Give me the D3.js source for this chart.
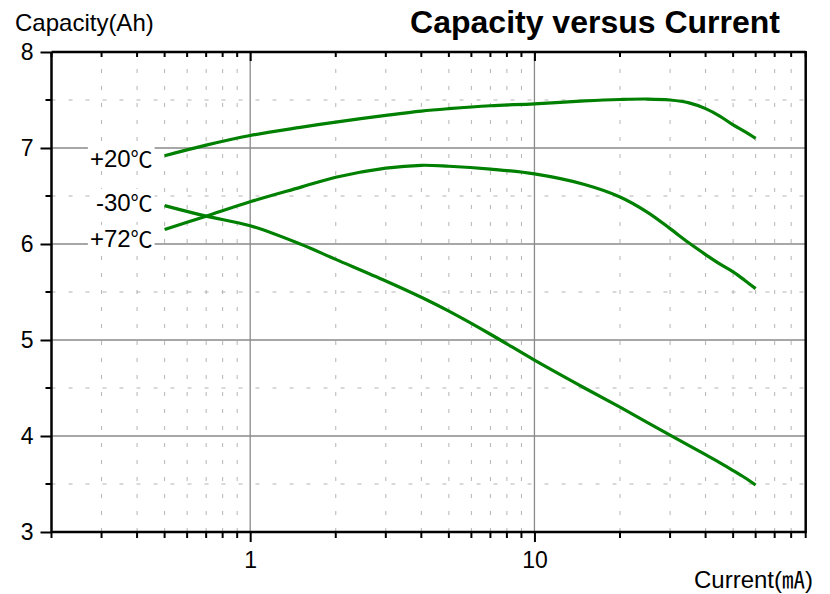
<!DOCTYPE html>
<html><head><meta charset="utf-8">
<script src="https://cdn.jsdelivr.net/npm/d3@7"></script>
<style>body{margin:0;background:#fff}svg{display:block}</style>
</head><body>
<svg id="c" width="830" height="594"></svg>
<script>
// ---- data ----
const currents = [0.5, 0.7, 1, 1.5, 2, 3, 4, 5, 7, 10, 15, 20, 25, 30, 35, 40, 45, 50, 55, 60];
const capPlus20 = [6.92, 7.03, 7.13, 7.215, 7.27, 7.34, 7.385, 7.41, 7.44, 7.46, 7.49, 7.505, 7.51, 7.50, 7.47, 7.41, 7.33, 7.24, 7.17, 7.10];
const capMinus30 = [6.40, 6.29, 6.19, 6.00, 5.84, 5.615, 5.445, 5.30, 5.06, 4.79, 4.50, 4.30, 4.14, 4.01, 3.90, 3.805, 3.72, 3.64, 3.565, 3.49];
const capPlus72 = [6.15, 6.29, 6.44, 6.59, 6.695, 6.79, 6.82, 6.81, 6.78, 6.73, 6.62, 6.49, 6.33, 6.16, 6.01, 5.89, 5.79, 5.71, 5.62, 5.535];
const seriesLabels = ["+20", "-30", "+72"];
const labelLevels = [6.80, 6.345, 5.97];
const xMajorTicks = [1, 10];
const xMinorTicks = [0.2, 0.3, 0.4, 0.5, 0.6, 0.7, 0.8, 0.9, 2, 3, 4, 5, 6, 7, 8, 9, 20, 30, 40, 50, 60, 70, 80, 90];
const yMajorTicks = [3, 4, 5, 6, 7, 8];
const yMinorTicks = [3.5, 4.5, 5.5, 6.5, 7.5];
const xDomain = [0.2, 90];
const yDomain = [3, 8];
const titleText = "Capacity versus Current";
const yTitle = "Capacity(Ah)";

// ---- layout ----
const L = 51.5, R = 805.7, T = 52, B = 532;
const svg = d3.select("#c");
const x = d3.scaleLog().domain(xDomain).range([L, R]);
const y = d3.scaleLinear().domain(yDomain).range([B, T]);
const FONT = "'Liberation Sans', Arial, sans-serif";
const CJK = "'Noto Sans CJK SC', sans-serif";

// minor grid
svg.append("g").selectAll("line").data(yMinorTicks).join("line")
  .attr("x1", L).attr("x2", R).attr("y1", d => y(d)).attr("y2", d => y(d))
  .attr("stroke", "#b4b4b4").attr("stroke-width", 1).attr("stroke-dasharray", "4,13");
svg.append("g").selectAll("line").data(xMinorTicks.filter(d => d > xDomain[0] && d < xDomain[1])).join("line")
  .attr("x1", d => x(d)).attr("x2", d => x(d)).attr("y1", T).attr("y2", B)
  .attr("stroke", "#b4b4b4").attr("stroke-width", 1).attr("stroke-dasharray", "4,13");
// major grid
svg.append("g").selectAll("line").data(yMajorTicks.filter(d => d > 3 && d < 8)).join("line")
  .attr("x1", L).attr("x2", R).attr("y1", d => y(d)).attr("y2", d => y(d))
  .attr("stroke", "#8a8a8a").attr("stroke-width", 1.3);
svg.append("g").selectAll("line").data(xMajorTicks).join("line")
  .attr("x1", d => x(d)).attr("x2", d => x(d)).attr("y1", T).attr("y2", B)
  .attr("stroke", "#8a8a8a").attr("stroke-width", 1.3);

// curves
const line = d3.line().x(d => x(d[0])).y(d => y(d[1])).curve(d3.curveCatmullRom.alpha(0.5));
const allSeries = [capPlus20, capMinus30, capPlus72];
svg.append("g").selectAll("path").data(allSeries).join("path")
  .attr("d", s => line(currents.map((c, i) => [c, s[i]])))
  .attr("fill", "none").attr("stroke", "#008000").attr("stroke-width", 3.2)
  .attr("stroke-linejoin", "round");

// axes
const axB = d3.axisBottom(x).tickValues(xMajorTicks).tickFormat(d3.format("d")).tickSize(10).tickPadding(10);
const gB = svg.append("g").attr("transform", `translate(0,${B})`).call(axB);
gB.append("g").selectAll("line").data(xMinorTicks).join("line")
  .attr("x1", d => x(d)).attr("x2", d => x(d)).attr("y1", 0).attr("y2", 6)
  .attr("stroke", "#000").attr("stroke-width", 2);
const axT = d3.axisBottom(x).tickValues(xMajorTicks).tickFormat("").tickSize(9);
const gT = svg.append("g").attr("transform", `translate(0,${T})`).call(axT);
gT.append("g").selectAll("line").data(xMinorTicks).join("line")
  .attr("x1", d => x(d)).attr("x2", d => x(d)).attr("y1", 0).attr("y2", 5)
  .attr("stroke", "#000").attr("stroke-width", 2);
const axL = d3.axisLeft(y).tickValues(yMajorTicks).tickFormat(d3.format("d")).tickSize(11).tickPadding(7);
const gL = svg.append("g").attr("transform", `translate(${L},0)`).call(axL);
gL.append("g").selectAll("line").data(yMinorTicks).join("line")
  .attr("x1", -6).attr("x2", 0).attr("y1", d => y(d)).attr("y2", d => y(d))
  .attr("stroke", "#000").attr("stroke-width", 2);
svg.append("line").attr("x1", R).attr("x2", R).attr("y1", T - 1).attr("y2", B + 1)
  .attr("stroke", "#000").attr("stroke-width", 2.5);

[gB, gT, gL].forEach(g => {
  g.select(".domain").attr("stroke", "#000").attr("stroke-width", 2.5);
  g.selectAll(".tick line").attr("stroke", "#000").attr("stroke-width", 2);
  g.selectAll(".tick text").attr("font-family", FONT).attr("font-size", 23).attr("fill", "#000");
});
gB.select(".domain").attr("d", `M${L},0H${R}`);
gT.select(".domain").attr("d", `M${L},0H${R}`);
gL.select(".domain").attr("d", `M0,${B}V${T}`);

// series labels with white background
const lab = svg.append("g");
seriesLabels.forEach((t, i) => {
  const g = lab.append("g");
  const txt = g.append("text").attr("x", x(currents[0]) - 12).attr("y", y(labelLevels[i]))
    .attr("text-anchor", "end").attr("font-size", 24).attr("font-family", FONT).attr("fill", "#000");
  txt.append("tspan").text(t);
  txt.append("tspan").attr("font-family", CJK).attr("font-size", 22).text("℃");
  const bb = txt.node().getBBox();
  g.insert("rect", "text").attr("x", bb.x - 2).attr("y", bb.y + 4).attr("width", bb.width + 4).attr("height", bb.height - 7).attr("fill", "#fff");
});

// titles
svg.append("text").attr("x", 780).attr("y", 33).attr("text-anchor", "end")
  .attr("font-family", FONT).attr("font-weight", "bold").attr("font-size", 32).text(titleText);
svg.append("text").attr("x", 15).attr("y", 31)
  .attr("font-family", FONT).attr("font-size", 24).text(yTitle);
const xt = svg.append("text").attr("x", 813).attr("y", 588).attr("text-anchor", "end")
  .attr("font-family", FONT).attr("font-size", 24);
xt.append("tspan").text("Current(");
xt.append("tspan").attr("font-family", CJK).attr("font-size", 23).text("㎃");
xt.append("tspan").text(")");
</script>
</body></html>
